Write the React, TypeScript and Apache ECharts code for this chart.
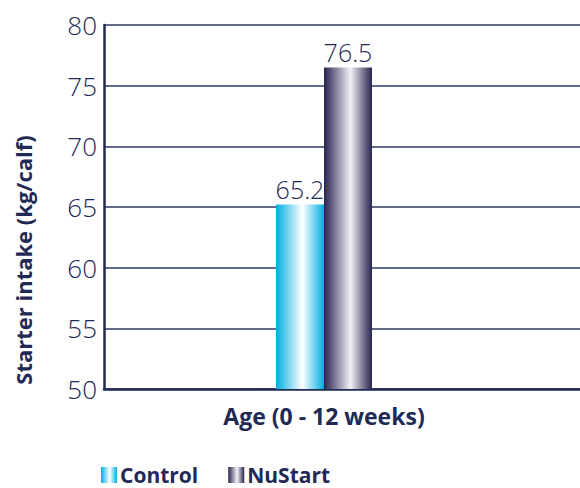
import React, { useEffect, useRef } from "react";
import * as echarts from "echarts";

const categories = ["Age (0 - 12 weeks)"];
const seriesNames = ["Control", "NuStart"];
const controlValues = [65.2];
const nuStartValues = [76.5];
const yTicks = { min: 50, max: 80, interval: 5 };

const NAVY = "#1f2a55";
const FONT = "'Open Sans', 'Noto Sans', sans-serif";

const grad = (edge: string, mid: string) =>
  new echarts.graphic.LinearGradient(0, 0, 1, 0, [
    { offset: 0, color: edge },
    { offset: 0.55, color: mid },
    { offset: 1, color: edge },
  ]);

export default function App() {
  const ref = useRef<HTMLDivElement>(null);
  useEffect(() => {
    if (!ref.current) return;
    const chart = echarts.init(ref.current, null, { renderer: "svg" });
    chart.setOption({
      animation: false,
      textStyle: { fontFamily: FONT },
      grid: [
        { left: 104, right: 36, top: 25, bottom: 99 },
        { left: 104, right: 0, top: 25, bottom: 99 },
      ],
      legend: {
        left: 96,
        top: 459,
        itemWidth: 16,
        itemHeight: 16,
        itemGap: 30,
        icon: "rect",
        data: seriesNames,
        textStyle: { color: NAVY, fontSize: 21, fontWeight: "bold", fontFamily: FONT, lineHeight: 22, padding: [0, 0, 0, -2] },
      },
      xAxis: [
        {
          type: "category",
          gridIndex: 0,
          data: categories,
          axisLine: { show: false },
          axisTick: { show: false },
          axisLabel: { color: NAVY, fontSize: 23, fontWeight: "bold", margin: 15, fontFamily: FONT },
        },
        {
          type: "category",
          gridIndex: 1,
          data: [""],
          axisLine: { show: true, lineStyle: { color: NAVY, width: 2.5 } },
          axisTick: { show: false },
          axisLabel: { show: false },
        },
      ],
      yAxis: [
        {
          type: "value",
          gridIndex: 0,
          min: yTicks.min,
          max: yTicks.max,
          interval: yTicks.interval,
          axisLine: { show: true, lineStyle: { color: NAVY, width: 2.5 } },
          axisTick: { show: false },
          splitLine: { show: false },
          axisLabel: { color: NAVY, fontSize: 26, fontWeight: 300, margin: 7, fontFamily: FONT, padding: [0, 0, 6, 0] },
        },
        {
          type: "value",
          gridIndex: 1,
          min: yTicks.min,
          max: yTicks.max,
          interval: yTicks.interval,
          axisLine: { show: false },
          axisTick: { show: false },
          axisLabel: { show: false },
          splitLine: { show: true, lineStyle: { color: "#2d3862", width: 1.5 } },
        },
      ],
      graphic: [
        {
          type: "text",
          x: 12,
          y: 260,
          rotation: Math.PI / 2,
          style: {
            text: "Starter intake (kg/calf)",
            fill: NAVY,
            font: `bold 22px ${FONT}`,
            align: "center",
            verticalAlign: "top",
          },
        },
      ],
      series: [
        {
          name: seriesNames[0],
          type: "bar",
          xAxisIndex: 0,
          yAxisIndex: 0,
          data: controlValues,
          barWidth: 48,
          barGap: "0%",
          itemStyle: { color: grad("#00ade2", "#ffffff") },
          label: { show: true, position: "top", color: NAVY, fontSize: 25, fontWeight: 300, distance: 3, fontFamily: FONT },
        },
        {
          name: seriesNames[1],
          type: "bar",
          xAxisIndex: 0,
          yAxisIndex: 0,
          data: nuStartValues,
          barWidth: 48,
          barGap: "0%",
          itemStyle: { color: grad("#27234f", "#f4f0f6") },
          label: { show: true, position: "top", color: NAVY, fontSize: 25, fontWeight: 300, distance: 3, fontFamily: FONT },
        },
      ],
    });
    return () => chart.dispose();
  }, []);
  return <div ref={ref} style={{ width: 580, height: 488, position: "absolute", left: 0, top: 0 }} />;
}
